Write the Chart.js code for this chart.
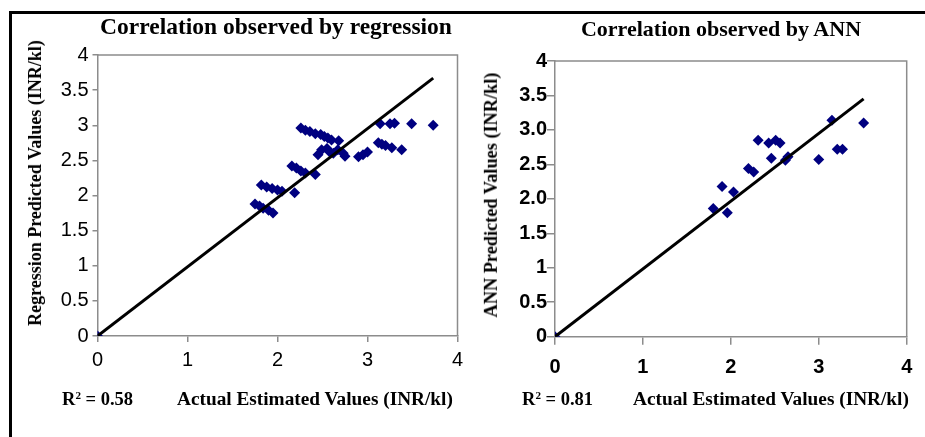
<!DOCTYPE html>
<html>
<head>
<meta charset="utf-8">
<script src="https://cdn.jsdelivr.net/npm/chart.js@4"></script>
<style>
  body { margin: 0; background: #fff; width: 925px; height: 437px; overflow: hidden; position: relative; }
  .frame { position: absolute; left: 9px; top: 11px; width: 940px; height: 440px; border-left: 3px solid #000; border-top: 3px solid #000; }
  canvas { position: absolute; top: 0; }
  .txt { position: absolute; font-family: "Liberation Serif", "Times New Roman", serif; font-weight: bold; color: #000; white-space: nowrap; line-height: 1; }
  .c { transform: translate(-50%, -50%); }
  .v { transform: translate(-50%, -50%) rotate(-90deg); }
  .l { transform: translateY(-50%); }
  sup { font-size: 0.6em; vertical-align: 0.55em; line-height: 0; }
</style>
</head>
<body>
<div class="frame"></div>
<canvas id="reg-chart" width="470" height="437" style="left:0;width:470px;height:437px"></canvas>
<canvas id="ann-chart" width="460" height="437" style="left:465px;width:460px;height:437px"></canvas>

<div class="txt c" style="left:276px;top:27px;font-size:23.5px">Correlation observed by regression</div>
<div class="txt c" style="left:721px;top:29px;font-size:22px">Correlation observed by ANN</div>
<div class="txt v" style="left:35px;top:183px;font-size:18px">Regression Predicted Values (INR/kl)</div>
<div class="txt v" style="left:491px;top:195px;font-size:18.3px">ANN Predicted Values (INR/kl)</div>
<div class="txt l" style="left:62px;top:399px;font-size:18.5px">R<sup>2</sup> = 0.58</div>
<div class="txt l" style="left:177px;top:399px;font-size:19.3px">Actual Estimated Values (INR/kl)</div>
<div class="txt l" style="left:522px;top:399px;font-size:18.5px">R<sup>2</sup> = 0.81</div>
<div class="txt l" style="left:633px;top:399px;font-size:19.3px">Actual Estimated Values (INR/kl)</div>

<script>
// regression model: actual vs predicted
const regActual = [0, 1.75, 1.80, 1.84, 1.90, 1.95, 1.82, 1.88, 1.94, 2.00, 2.05, 2.19,
    2.16, 2.21, 2.26, 2.31, 2.42, 2.26, 2.31, 2.36, 2.42, 2.48, 2.52, 2.56, 2.60, 2.68,
    2.45, 2.49, 2.55, 2.58, 2.62, 2.67, 2.73, 2.75, 2.90, 2.95, 3.00,
    3.12, 3.16, 3.20, 3.27, 3.38, 3.14, 3.25, 3.30, 3.49, 3.73];
const regPredicted = [0, 1.88, 1.85, 1.82, 1.79, 1.75, 2.15, 2.12, 2.10, 2.08, 2.06, 2.04,
    2.42, 2.39, 2.35, 2.32, 2.30, 2.96, 2.93, 2.91, 2.88, 2.87, 2.84, 2.82, 2.79, 2.78,
    2.58, 2.65, 2.67, 2.62, 2.60, 2.65, 2.60, 2.56, 2.55, 2.58, 2.62,
    2.75, 2.73, 2.71, 2.68, 2.65, 3.02, 3.02, 3.03, 3.02, 3.00];
const regTrendX = [0, 3.73];
const regTrendY = [0, 3.67];

// ANN model: actual vs predicted
const annActual = [0, 1.80, 1.96, 1.90, 2.03, 2.20, 2.26, 2.31, 2.43, 2.51, 2.56,
    2.46, 2.62, 2.65, 3.00, 3.15, 3.21, 3.27, 3.51];
const annPredicted = [0, 1.86, 1.80, 2.18, 2.10, 2.44, 2.39, 2.85, 2.81, 2.85, 2.81,
    2.59, 2.56, 2.61, 2.57, 3.14, 2.72, 2.72, 3.10];
const annTrendX = [0, 3.51];
const annTrendY = [0, 3.45];

const regYTicks = ['0', '0.5', '1', '1.5', '2', '2.5', '3', '3.5', '4'];
const annYTicks = ['0', '0.5', '1', '1.5', '2.0', '2.5', '3.0', '3.5', '4'];
const xTicks = ['0', '1', '2', '3', '4'];

const toPoints = (xs, ys) => xs.map((x, i) => ({x: x, y: ys[i]}));

const plotBorder = {
    id: 'plotBorder',
    afterDraw(chart) {
        const a = chart.chartArea;
        const ctx = chart.ctx;
        ctx.save();
        ctx.strokeStyle = '#8c8c8c';
        ctx.lineWidth = 1.5;
        ctx.beginPath();
        ctx.moveTo(a.left, a.top);
        ctx.lineTo(a.right, a.top);
        ctx.lineTo(a.right, a.bottom);
        ctx.stroke();
        ctx.restore();
    }
};

function makeChart(id, xs, ys, tx, ty, yLabels, bold, box) {
    const fontSpec = {family: '"Liberation Sans", Arial, sans-serif', size: 20, weight: bold ? 'bold' : 'normal'};
    return new Chart(document.getElementById(id).getContext('2d'), {
        type: 'scatter',
        data: {
            datasets: [{
                label: 'Observed',
                data: toPoints(xs, ys),
                pointStyle: 'rectRot',
                pointRadius: 5.5,
                backgroundColor: '#000080',
                borderColor: '#000080',
                borderWidth: 0,
                order: 2
            }, {
                type: 'line',
                label: 'Trend',
                data: toPoints(tx, ty),
                borderColor: '#000',
                borderWidth: 3,
                pointRadius: 0,
                fill: false,
                order: 1
            }]
        },
        options: {
            responsive: false,
            animation: false,
            layout: {padding: {left: 0, right: box.right, top: box.top, bottom: box.bottom}},
            plugins: {legend: {display: false}, tooltip: {enabled: false}},
            scales: {
                x: {
                    type: 'linear', min: 0, max: 4,
                    afterFit: s => { s.height = box.xh; },
                    grid: {drawOnChartArea: false, drawTicks: true, tickLength: box.xtl, color: '#8c8c8c', lineWidth: 1.5},
                    border: {color: '#8c8c8c', width: 1.5},
                    ticks: {stepSize: 1, padding: box.xpad, color: '#000', font: fontSpec,
                        callback: (v) => xTicks[Math.round(v)]}
                },
                y: {
                    type: 'linear', min: 0, max: 4,
                    afterFit: s => { s.width = box.yw; },
                    grid: {drawOnChartArea: false, drawTicks: true, tickLength: box.ytl, color: '#8c8c8c', lineWidth: 1.5},
                    border: {color: '#8c8c8c', width: 1.5},
                    ticks: {stepSize: 0.5, padding: box.ypad, color: '#000', font: fontSpec,
                        callback: (v) => yLabels[Math.round(v * 2)]}
                }
            }
        },
        plugins: [plotBorder]
    });
}

makeChart('reg-chart', regActual, regPredicted, regTrendX, regTrendY, regYTicks, false,
    {right: 12.5, top: 55, bottom: 61, xh: 40, yw: 97.5, xtl: 6, xpad: 6, ytl: 5, ypad: 4});
makeChart('ann-chart', annActual, annPredicted, annTrendX, annTrendY, annYTicks, true,
    {right: 18.3, top: 61, bottom: 60.3, xh: 40, yw: 90, xtl: 8, xpad: 11, ytl: 8, ypad: 0});
</script>
</body>
</html>
